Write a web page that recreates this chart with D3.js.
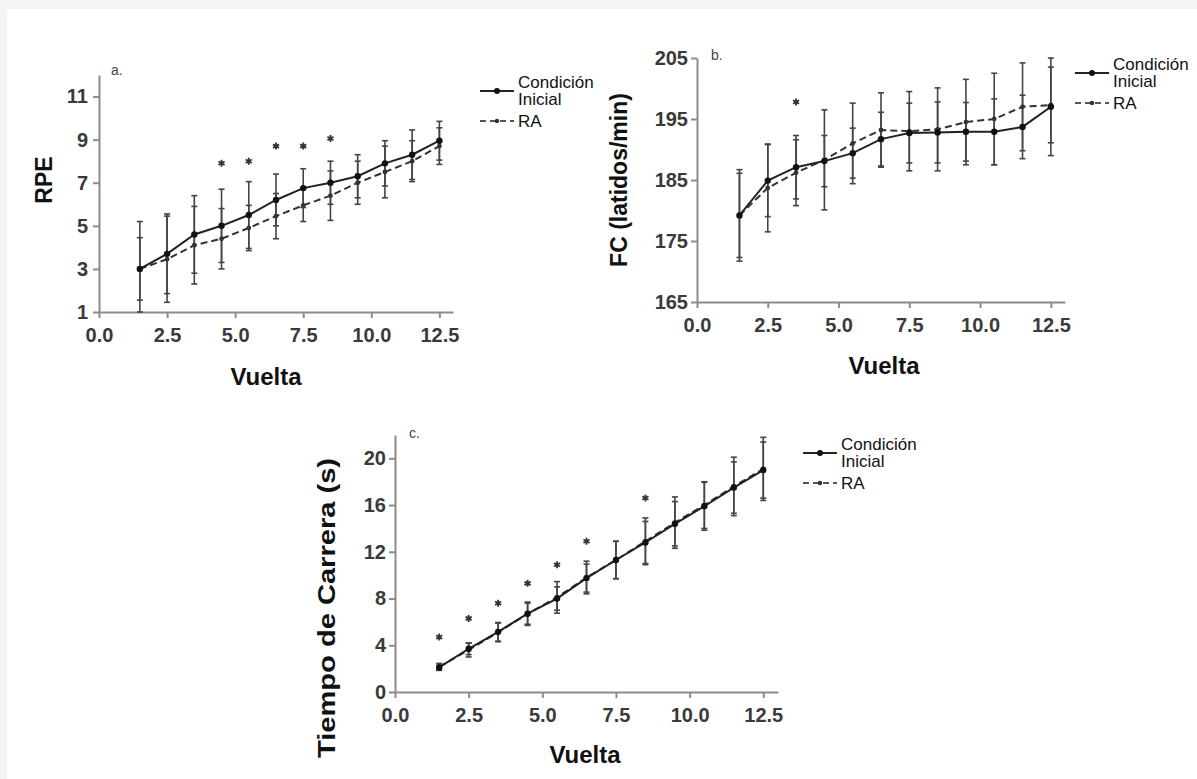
<!DOCTYPE html>
<html>
<head>
<meta charset="utf-8">
<script src="https://cdn.jsdelivr.net/npm/d3@7"></script>
<style>
  body { margin: 0; background: #f4f4f4; }
  svg { display: block; }
  text { font-family: "Liberation Sans", Arial, sans-serif; }
</style>
</head>
<body>
<div id="chart"></div>
<script>
// Laps and shared ticks
var laps = [1.5, 2.5, 3.5, 4.5, 5.5, 6.5, 7.5, 8.5, 9.5, 10.5, 11.5, 12.5];
var xTicks = [0, 2.5, 5, 7.5, 10, 12.5];
var seriesNames = ["Condición", "Inicial", "RA"];

// a. RPE
var rpeInicial = [3.0, 3.7, 4.6, 5.0, 5.5, 6.2, 6.75, 7.0, 7.3, 7.9, 8.3, 8.95];
var rpeInicialSD = [2.2, 1.85, 1.8, 1.7, 1.55, 1.2, 0.9, 1.0, 1.0, 1.05, 1.15, 0.9];
var rpeRA = [3.0, 3.45, 4.1, 4.4, 4.9, 5.45, 5.95, 6.4, 7.0, 7.5, 8.0, 8.7];
var rpeRASD = [1.45, 2.0, 1.8, 1.4, 1.05, 1.05, 0.75, 1.15, 1.0, 1.2, 0.95, 0.85];
var rpeTicks = [1, 3, 5, 7, 9, 11];
var rpeStarLaps = [4.5, 5.5, 6.5, 7.5, 8.5];
var rpeStarY = [7.9, 8.0, 8.7, 8.7, 9.05];

// b. FC
var fcInicial = [179.2, 184.9, 187.1, 188.1, 189.4, 191.7, 192.7, 192.8, 192.9, 192.9, 193.7, 197.0];
var fcInicialSD = [7.5, 5.9, 5.2, 4.2, 4.1, 4.4, 4.9, 5.0, 4.8, 5.4, 5.2, 8.0];
var fcRA = [179.2, 183.7, 186.2, 188.3, 191.0, 193.2, 193.0, 193.3, 194.5, 195.0, 197.0, 197.3];
var fcRASD = [6.9, 7.2, 5.4, 8.2, 6.6, 6.1, 6.5, 6.8, 7.0, 7.5, 7.2, 6.2];
var fcTicks = [165, 175, 185, 195, 205];
var fcStarLaps = [3.5];
var fcStarY = [197.8];

// c. Tiempo de carrera
var tiempoInicial = [2.1, 3.7, 5.15, 6.7, 8.0, 9.75, 11.3, 12.8, 14.4, 15.9, 17.5, 19.0];
var tiempoInicialSD = [0.2, 0.5, 0.8, 0.9, 1.0, 1.2, 1.6, 1.8, 1.9, 2.05, 2.2, 2.4];
var tiempoRA = [2.15, 3.6, 5.1, 6.7, 8.1, 9.8, 11.3, 12.9, 14.5, 16.0, 17.6, 19.1];
var tiempoRASD = [0.3, 0.6, 0.8, 1.0, 1.35, 1.4, 1.6, 2.0, 2.2, 2.0, 2.5, 2.7];
var tiempoTicks = [0, 4, 8, 12, 16, 20];
var tiempoStarLaps = [1.5, 2.5, 3.5, 4.5, 5.5, 6.5, 8.5];
var tiempoStarY = [4.7, 6.3, 7.6, 9.3, 10.9, 12.9, 16.6];

var svg = d3.select("#chart")
  .append("svg")
  .attr("width", 1197)
  .attr("height", 779);

// white page on the grey frame
svg.append("rect")
  .attr("x", 7).attr("y", 9)
  .attr("width", 1190).attr("height", 770)
  .attr("fill", "#fff");

var panels = [
  { tag: "a.", tagX: 111, tagY: 75, xr: [99, 453], yd: [1, 12], yr: [312, 75], yTicks: rpeTicks,
    yTitle: "RPE", yTitleX: 52, yTitleY: 180, yTitleLen: 0,
    xTitleX: 266, xTitleY: 385, tickPad: 5,
    ini: rpeInicial, iniSD: rpeInicialSD, ra: rpeRA, raSD: rpeRASD,
    starX: rpeStarLaps, starY: rpeStarY, legX: 480, legY: 91 },
  { tag: "b.", tagX: 711, tagY: 60, xr: [697, 1065], yd: [165, 205], yr: [302, 58], yTicks: fcTicks,
    yTitle: "FC (latidos/min)", yTitleX: 627, yTitleY: 180, yTitleLen: 0,
    xTitleX: 884, xTitleY: 374, tickPad: 3,
    ini: fcInicial, iniSD: fcInicialSD, ra: fcRA, raSD: fcRASD,
    starX: fcStarLaps, starY: fcStarY, legX: 1075, legY: 73 },
  { tag: "c.", tagX: 409, tagY: 438, xr: [395, 778], yd: [0, 22], yr: [692, 435], yTicks: tiempoTicks,
    yTitle: "Tiempo de Carrera (s)", yTitleX: 335, yTitleY: 608, yTitleLen: 300,
    xTitleX: 585, xTitleY: 763, tickPad: 3,
    ini: tiempoInicial, iniSD: tiempoInicialSD, ra: tiempoRA, raSD: tiempoRASD,
    starX: tiempoStarLaps, starY: tiempoStarY, legX: 803, legY: 453 }
];

panels.forEach(function(p) {
  var x = d3.scaleLinear().domain([0, 13]).range(p.xr);
  var y = d3.scaleLinear().domain(p.yd).range(p.yr);
  var g = svg.append("g");

  // axes
  var xAxis = g.append("g")
    .attr("transform", `translate(0, ${p.yr[0]})`)
    .call(d3.axisBottom(x).tickValues(xTicks).tickFormat(d3.format(".1f"))
      .tickSize(6).tickSizeOuter(0).tickPadding(10));
  var yAxis = g.append("g")
    .attr("transform", `translate(${x(0)}, 0)`)
    .call(d3.axisLeft(y).tickValues(p.yTicks).tickSize(6).tickSizeOuter(0).tickPadding(p.tickPad));
  [xAxis, yAxis].forEach(function(ax) {
    ax.selectAll("path, line").attr("stroke", "#8c8c8c").attr("stroke-width", 2);
    ax.selectAll("text").attr("fill", "#3a3a3a").style("font-size", "20px")
      .style("font-weight", "bold").style("font-family", "Liberation Sans, Arial, sans-serif");
  });

  // titles
  g.append("text")
    .attr("transform", `translate(${p.yTitleX}, ${p.yTitleY}) rotate(-90)`)
    .attr("text-anchor", "middle")
    .attr("textLength", p.yTitleLen || null)
    .attr("lengthAdjust", "spacingAndGlyphs")
    .style("font-size", "23px").style("font-weight", "bold").attr("fill", "#111")
    .text(p.yTitle);
  g.append("text")
    .attr("x", p.xTitleX).attr("y", p.xTitleY)
    .attr("text-anchor", "middle")
    .style("font-size", "24px").style("font-weight", "bold").attr("fill", "#111")
    .text("Vuelta");
  g.append("text")
    .attr("x", p.tagX).attr("y", p.tagY)
    .style("font-size", "14px").attr("fill", "#444")
    .text(p.tag);

  // error bars, both series
  var lo = p.yd[0], hi = p.yd[1];
  [[p.ini, p.iniSD], [p.ra, p.raSD]].forEach(function(s) {
    var bars = g.append("g").attr("stroke", "#444").attr("stroke-width", 1.6);
    laps.forEach(function(l, i) {
      var top = Math.min(hi, s[0][i] + s[1][i]);
      var bot = Math.max(lo, s[0][i] - s[1][i]);
      bars.append("line").attr("x1", x(l)).attr("x2", x(l)).attr("y1", y(top)).attr("y2", y(bot));
      bars.append("line").attr("x1", x(l) - 3).attr("x2", x(l) + 3).attr("y1", y(top)).attr("y2", y(top));
      bars.append("line").attr("x1", x(l) - 3).attr("x2", x(l) + 3).attr("y1", y(bot)).attr("y2", y(bot));
    });
  });

  // lines
  var line = d3.line().x(function(d, i) { return x(laps[i]); }).y(function(d) { return y(d); });
  g.append("path").datum(p.ra).attr("d", line)
    .attr("fill", "none").attr("stroke", "#333").attr("stroke-width", 2).attr("stroke-dasharray", "7,4");
  g.append("path").datum(p.ini).attr("d", line)
    .attr("fill", "none").attr("stroke", "#222").attr("stroke-width", 2);

  // markers
  g.selectAll(null).data(p.ra).enter().append("circle")
    .attr("cx", function(d, i) { return x(laps[i]); })
    .attr("cy", function(d) { return y(d); })
    .attr("r", 2.4).attr("fill", "#333");
  g.selectAll(null).data(p.ini).enter().append("circle")
    .attr("cx", function(d, i) { return x(laps[i]); })
    .attr("cy", function(d) { return y(d); })
    .attr("r", 3.2).attr("fill", "#111");

  // significance stars
  g.selectAll(null).data(p.starX).enter().append("path")
    .attr("d", d3.symbol(d3.symbolAsterisk, 34))
    .attr("transform", function(d, i) { return `translate(${x(d)}, ${y(p.starY[i])})`; })
    .attr("fill", "none").attr("stroke", "#333").attr("stroke-width", 1.8);

  // legend
  var leg = g.append("g").attr("transform", `translate(${p.legX}, ${p.legY})`);
  leg.append("line").attr("x1", 0).attr("x2", 34).attr("y1", 0).attr("y2", 0)
    .attr("stroke", "#222").attr("stroke-width", 1.8);
  leg.append("circle").attr("cx", 17).attr("cy", 0).attr("r", 3).attr("fill", "#111");
  leg.append("line").attr("x1", 0).attr("x2", 34).attr("y1", 30).attr("y2", 30)
    .attr("stroke", "#555").attr("stroke-width", 1.8).attr("stroke-dasharray", "6,4");
  leg.append("circle").attr("cx", 17).attr("cy", 30).attr("r", 2.2).attr("fill", "#333");
  leg.append("text").attr("x", 38).attr("y", -3).style("font-size", "17px").attr("fill", "#111").text(seriesNames[0]);
  leg.append("text").attr("x", 38).attr("y", 14).style("font-size", "17px").attr("fill", "#111").text(seriesNames[1]);
  leg.append("text").attr("x", 38).attr("y", 36).style("font-size", "17px").attr("fill", "#111").text(seriesNames[2]);
});
</script>
</body>
</html>
